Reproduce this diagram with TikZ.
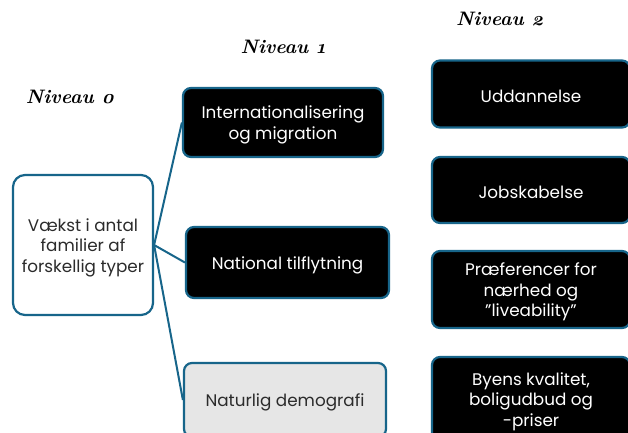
\documentclass[tikz,border=0pt]{standalone}
\usepackage{fontspec}
\setmainfont{Poppins}
\newfontfamily\nivfont{Latin Modern Roman}[Numbers=OldStyle]
\definecolor{bordblue}{HTML}{17658A}
\definecolor{lightgrey}{HTML}{E6E6E6}
\definecolor{darktext}{HTML}{2B2B2B}
\begin{document}
\begin{tikzpicture}[x=1pt,y=-1pt,
  box/.style={draw=bordblue,line width=2.2pt,rounded corners=8pt,inner sep=0pt},
  darkbox/.style={box,fill=black},
  txt/.style={align=center,font=\fontsize{16.8}{20.5}\selectfont,inner sep=0pt,yshift=-2.5pt},
  wtxt/.style={txt,text=white},
  dtxt/.style={txt,text=darktext},
  lvl/.style={font=\nivfont\bfseries\itshape\fontsize{19.5}{22}\selectfont},
  conn/.style={draw=bordblue,line width=2pt}]
\useasboundingbox (0,0) rectangle (628,432);
\clip (0,0) rectangle (628,432);
\fill[white] (0,0) rectangle (628,432);
\node[lvl] (n0) at (70,97) {Niveau 0};
\node[lvl] (n1) at (283,47) {Niveau 1};
\node[lvl] (n2) at (500,19) {Niveau 2};
\node[box,fill=white,rounded corners=12pt,minimum width=140pt,minimum height=140pt] (l0) at (83,245) {};
\node[dtxt] (l0t) at (l0) {Vækst i antal\\familier af\\forskellig typer};
\node[darkbox,minimum width=200pt,minimum height=69pt] (intl) at (283,122.5) {};
\node[wtxt] (intlt) at (intl) {Internationalisering\\og migration};
\node[darkbox,minimum width=203pt,minimum height=71pt] (nat) at (287.5,262.5) {};
\node[wtxt] (natt) at (nat) {National tilflytning};
\node[box,fill=lightgrey,minimum width=202pt,minimum height=74pt] (natur) at (285,400) {};
\node[dtxt] (naturt) at (natur) {Naturlig demografi};
\node[darkbox,minimum width=198pt,minimum height=67pt] (udd) at (531,94) {};
\node[wtxt] (uddt) at (udd) {Uddannelse};
\node[darkbox,minimum width=198pt,minimum height=66pt] (job) at (531,190) {};
\node[wtxt] (jobt) at (job) {Jobskabelse};
\node[darkbox,minimum width=198pt,minimum height=77pt] (pref) at (531,289.5) {};
\node[wtxt] (preft) at (pref) {Præferencer for\\nærhed og\\"liveability"};
\node[darkbox,minimum width=198pt,minimum height=84pt] (byens) at (531,399) {};
\node[wtxt] (byenst) at (byens) {Byens kvalitet,\\boligudbud og\\-priser};
\draw[conn] (l0.east) -- (intl.west);
\draw[conn] (l0.east) -- (nat.west);
\draw[conn] (l0.east) -- (natur.west);
\end{tikzpicture}
\end{document}
